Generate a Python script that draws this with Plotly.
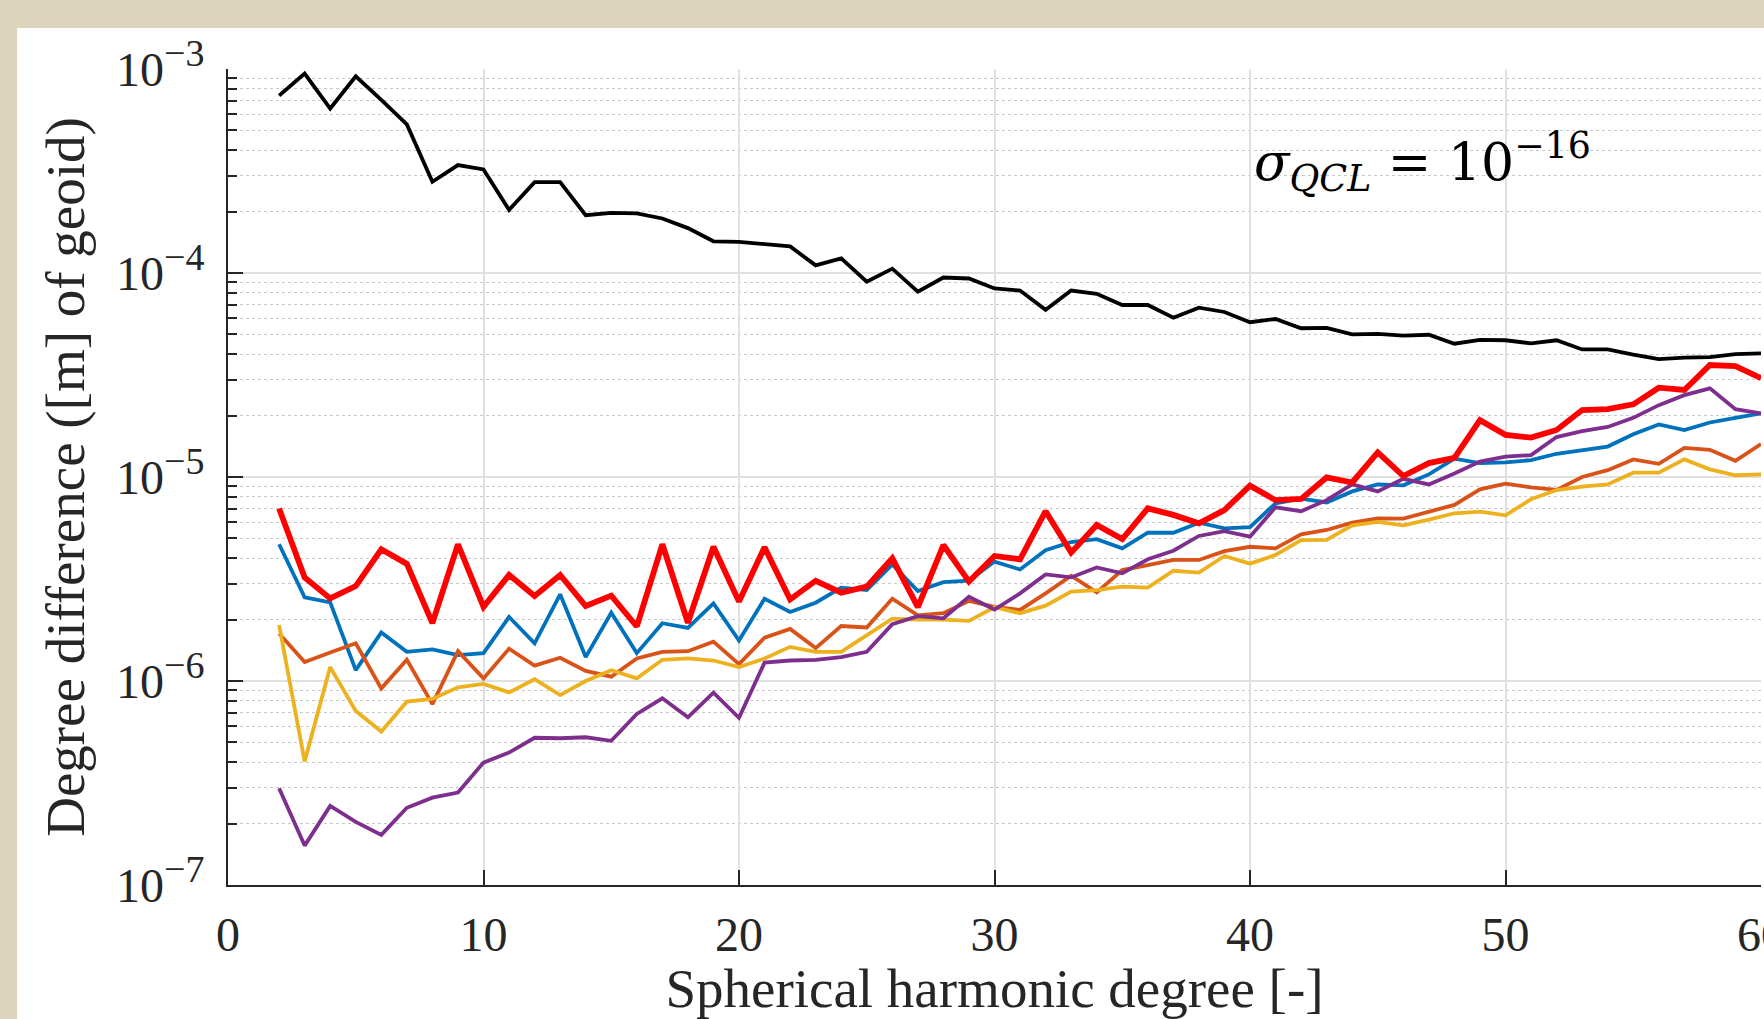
import plotly.graph_objects as go

degree = list(range(2, 61))

black = [7.4e-4, 9.5e-4, 6.4e-4, 9.2e-4, 7.05e-4, 5.35e-4, 2.8e-4, 3.38e-4, 3.22e-4, 2.04e-4,
         2.79e-4, 2.79e-4, 1.92e-4, 1.97e-4, 1.96e-4, 1.85e-4, 1.66e-4, 1.43e-4, 1.42e-4, 1.38e-4,
         1.35e-4, 1.09e-4, 1.18e-4, 9.06e-5, 1.05e-4, 8.1e-5, 9.5e-5, 9.4e-5, 8.4e-5, 8.2e-5,
         6.6e-5, 8.2e-5, 7.9e-5, 6.97e-5, 6.97e-5, 6.04e-5, 6.76e-5, 6.44e-5, 5.74e-5, 5.95e-5,
         5.36e-5, 5.38e-5, 5.0e-5, 5.03e-5, 4.93e-5, 4.98e-5, 4.5e-5, 4.7e-5, 4.68e-5, 4.52e-5,
         4.68e-5, 4.22e-5, 4.22e-5, 3.98e-5, 3.78e-5, 3.85e-5, 3.87e-5, 4.0e-5, 4.04e-5]

blue = [4.68e-6, 2.57e-6, 2.43e-6, 1.13e-6, 1.73e-6, 1.39e-6, 1.43e-6, 1.34e-6, 1.37e-6, 2.06e-6,
        1.53e-6, 2.66e-6, 1.31e-6, 2.16e-6, 1.37e-6, 1.92e-6, 1.82e-6, 2.4e-6, 1.58e-6, 2.53e-6,
        2.18e-6, 2.42e-6, 2.87e-6, 2.79e-6, 3.73e-6, 2.76e-6, 3.05e-6, 3.1e-6, 3.85e-6, 3.52e-6,
        4.38e-6, 4.8e-6, 4.96e-6, 4.47e-6, 5.33e-6, 5.33e-6, 5.97e-6, 5.6e-6, 5.68e-6, 7.43e-6,
        7.83e-6, 7.5e-6, 8.5e-6, 9.2e-6, 9.1e-6, 1.03e-5, 1.23e-5, 1.17e-5, 1.18e-5, 1.21e-5,
        1.3e-5, 1.36e-5, 1.41e-5, 1.62e-5, 1.81e-5, 1.7e-5, 1.85e-5, 1.95e-5, 2.05e-5]

orange = [1.71e-6, 1.24e-6, 1.38e-6, 1.53e-6, 9.2e-7, 1.27e-6, 7.7e-7, 1.4e-6, 1.03e-6, 1.44e-6,
          1.19e-6, 1.3e-6, 1.12e-6, 1.05e-6, 1.29e-6, 1.39e-6, 1.4e-6, 1.56e-6, 1.21e-6, 1.63e-6,
          1.8e-6, 1.45e-6, 1.86e-6, 1.83e-6, 2.53e-6, 2.1e-6, 2.15e-6, 2.47e-6, 2.31e-6, 2.23e-6,
          2.69e-6, 3.28e-6, 2.72e-6, 3.5e-6, 3.7e-6, 3.92e-6, 3.92e-6, 4.33e-6, 4.55e-6, 4.47e-6,
          5.24e-6, 5.5e-6, 5.97e-6, 6.27e-6, 6.25e-6, 6.76e-6, 7.3e-6, 8.7e-6, 9.27e-6, 8.9e-6,
          8.65e-6, 1.0e-5, 1.08e-5, 1.22e-5, 1.16e-5, 1.39e-5, 1.36e-5, 1.2e-5, 1.45e-5]

yellow = [1.88e-6, 4.03e-7, 1.17e-6, 7.13e-7, 5.65e-7, 7.92e-7, 8.17e-7, 9.31e-7, 9.67e-7, 8.8e-7,
          1.02e-6, 8.53e-7, 1.0e-6, 1.13e-6, 1.03e-6, 1.27e-6, 1.29e-6, 1.26e-6, 1.17e-6, 1.29e-6,
          1.47e-6, 1.39e-6, 1.39e-6, 1.68e-6, 2.02e-6, 2.0e-6, 2.0e-6, 1.97e-6, 2.3e-6, 2.15e-6,
          2.34e-6, 2.74e-6, 2.79e-6, 2.9e-6, 2.87e-6, 3.47e-6, 3.4e-6, 4.1e-6, 3.76e-6, 4.15e-6,
          4.9e-6, 4.92e-6, 5.8e-6, 6.02e-6, 5.8e-6, 6.18e-6, 6.64e-6, 6.76e-6, 6.49e-6, 7.78e-6,
          8.63e-6, 8.97e-6, 9.2e-6, 1.05e-5, 1.05e-5, 1.22e-5, 1.09e-5, 1.02e-5, 1.03e-5]

purple = [2.98e-7, 1.56e-7, 2.44e-7, 2.04e-7, 1.76e-7, 2.39e-7, 2.68e-7, 2.84e-7, 3.98e-7, 4.46e-7,
          5.27e-7, 5.24e-7, 5.3e-7, 5.09e-7, 6.89e-7, 8.23e-7, 6.64e-7, 8.77e-7, 6.6e-7, 1.23e-6,
          1.26e-6, 1.27e-6, 1.31e-6, 1.39e-6, 1.9e-6, 2.08e-6, 2.03e-6, 2.59e-6, 2.24e-6, 2.69e-6,
          3.33e-6, 3.22e-6, 3.6e-6, 3.37e-6, 3.95e-6, 4.35e-6, 5.14e-6, 5.43e-6, 5.1e-6, 7.1e-6,
          6.8e-6, 7.7e-6, 9.2e-6, 8.5e-6, 9.8e-6, 9.2e-6, 1.04e-5, 1.19e-5, 1.26e-5, 1.28e-5,
          1.57e-5, 1.68e-5, 1.76e-5, 1.95e-5, 2.25e-5, 2.52e-5, 2.72e-5, 2.15e-5, 2.05e-5]

red = [7.0e-6, 3.22e-6, 2.54e-6, 2.92e-6, 4.42e-6, 3.75e-6, 1.92e-6, 4.68e-6, 2.31e-6, 3.31e-6,
       2.61e-6, 3.31e-6, 2.33e-6, 2.62e-6, 1.85e-6, 4.68e-6, 1.93e-6, 4.55e-6, 2.45e-6, 4.52e-6,
       2.51e-6, 3.1e-6, 2.71e-6, 2.9e-6, 3.99e-6, 2.3e-6, 4.64e-6, 3.07e-6, 4.1e-6, 3.95e-6,
       6.8e-6, 4.26e-6, 5.82e-6, 4.96e-6, 7.02e-6, 6.52e-6, 5.93e-6, 6.89e-6, 9.07e-6, 7.7e-6,
       7.8e-6, 9.95e-6, 9.4e-6, 1.32e-5, 1.01e-5, 1.17e-5, 1.24e-5, 1.9e-5, 1.61e-5, 1.56e-5,
       1.7e-5, 2.13e-5, 2.15e-5, 2.27e-5, 2.74e-5, 2.67e-5, 3.54e-5, 3.5e-5, 3.05e-5]

y_tickvals = [1e-7, 1e-6, 1e-5, 1e-4, 1e-3]
y_exponents = ["\u22127", "\u22126", "\u22125", "\u22124", "\u22123"]
y_ticktext = ["10<sup><span style='font-size:38px'>%s</span></sup>" % e for e in y_exponents]
x_tickvals = [0, 10, 20, 30, 40, 50, 60]

series = [
    ("black", black, "#000000", 3.8),
    ("blue", blue, "#0072BD", 3.8),
    ("orange", orange, "#D95319", 3.8),
    ("yellow", yellow, "#EDB120", 3.8),
    ("purple", purple, "#7E2F8E", 3.8),
    ("red", red, "#FF0000", 5.8),
]

fig = go.Figure()
for name, vals, col, w in series:
    fig.add_trace(go.Scatter(x=degree, y=vals, mode="lines", name=name,
                             line=dict(color=col, width=w), showlegend=False))

FONT = "Liberation Serif"
AX = "#262626"
BEIGE = "#DCD4BC"

fig.update_layout(
    width=1764, height=1019,
    margin=dict(l=228, r=3, t=69, b=134, pad=0),
    paper_bgcolor=BEIGE,
    plot_bgcolor="#FFFFFF",
    font=dict(family=FONT, size=47, color=AX),
    xaxis=dict(
        range=[0, 60], tickvals=x_tickvals, ticks="inside", ticklen=15, tickwidth=1.5,
        tickcolor=AX, showline=True, linecolor=AX, linewidth=2, mirror=False,
        showgrid=True, gridcolor="#E0E0E0", gridwidth=1.5, zeroline=False,
        tickfont=dict(family=FONT, size=48, color=AX),
        title=dict(text="Spherical harmonic degree [-]", font=dict(family=FONT, size=55, color=AX),
                   standoff=32),
        ticklabelstandoff=6,
        ticklabeloverflow="allow",
        automargin=False,
    ),
    yaxis=dict(
        type="log", range=[-7, -3], tickvals=y_tickvals, ticktext=y_ticktext,
        ticks="inside", ticklen=15, tickwidth=1.5, tickcolor=AX,
        showline=True, linecolor=AX, linewidth=2, mirror=False,
        showgrid=True, gridcolor="#E0E0E0", gridwidth=1.5, zeroline=False,
        tickfont=dict(family=FONT, size=48, color=AX),
        ticklabelstandoff=12,
        minor=dict(dtick="D1", ticks="inside", ticklen=9, tickwidth=1.5, tickcolor=AX,
                   showgrid=True, gridcolor="#C8C8C8", griddash="dot", gridwidth=1),
        title=dict(text="Degree difference ([m] of geoid)", font=dict(family=FONT, size=55, color=AX),
                   standoff=14),
        automargin=False,
    ),
    shapes=[dict(type="rect", xref="paper", yref="paper", x0=-0.1376, x1=1.01, y0=-0.2, y1=1.0502,
                 fillcolor="#FFFFFF", line=dict(width=0), layer="below")],
    annotations=[dict(
        text="<i>\u03c3</i><sub><i>QCL</i></sub> = 10<sup>\u221216</sup>",
        xref="paper", yref="paper", x=0.668, y=0.886, xanchor="left", yanchor="middle",
        showarrow=False, font=dict(family="DejaVu Serif", size=52, color="#000000"),
    )],
)

fig.write_html(
    "out.html",
    config={"displayModeBar": False},
    post_script="document.body.style.margin='0';document.body.style.background='%s';"
                "document.body.style.overflow='hidden';" % BEIGE,
)
